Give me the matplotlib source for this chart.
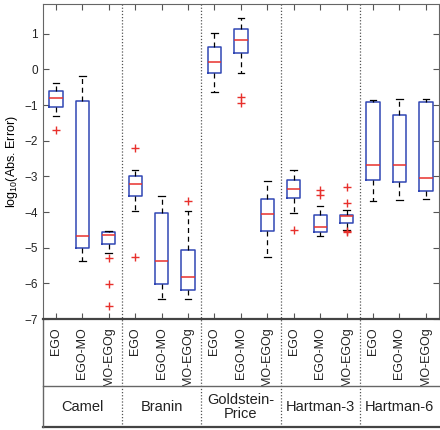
import matplotlib
matplotlib.use("Agg")
import matplotlib.pyplot as plt

plt.rcParams['font.family'] = ['Liberation Sans', 'DejaVu Sans']

methods = ["EGO", "EGO-MO", "MO-EGOg"]
problems = ["Camel", "Branin", "Goldstein-\nPrice", "Hartman-3", "Hartman-6"]

# box statistics, one entry per box (problem x method)
whishi = [-0.39, -0.19, -4.54, -2.81, -3.56, -3.96, 1.03, 1.43, -3.12,
          -2.83, -3.84, -3.94, -0.85, -0.84, -0.82]
q3 = [-0.60, -0.88, -4.56, -3.00, -4.03, -5.06, 0.64, 1.14, -3.64,
      -3.10, -4.07, -4.07, -0.92, -1.27, -0.91]
med = [-0.80, -4.66, -4.64, -3.20, -5.38, -5.81, 0.21, 0.82, -4.05,
       -3.36, -4.41, -4.11, -2.69, -2.67, -3.03]
q1 = [-1.05, -5.01, -4.89, -3.55, -6.02, -6.18, -0.09, 0.46, -4.52,
      -3.61, -4.57, -4.31, -3.11, -3.15, -3.40]
whislo = [-1.31, -5.37, -5.15, -3.98, -6.43, -6.43, -0.63, -0.09, -5.27,
          -4.03, -4.66, -4.51, -3.70, -3.66, -3.62]
fliers = [[-1.69], [], [-5.29, -6.03, -6.62], [-2.21, -5.27], [], [-3.69],
          [], [-0.76, -0.95], [], [-4.51], [-3.39, -3.52],
          [-3.31, -3.75, -4.53, -4.57], [], [], []]

stats = []
for i in range(len(med)):
    stats.append(dict(med=med[i], q1=q1[i], q3=q3[i], whislo=whislo[i],
                      whishi=whishi[i], fliers=fliers[i]))

fig = plt.figure(figsize=(4.4, 4.3), dpi=100)
ax = fig.add_axes([0.097, 0.258, 0.901, 0.733])

pos = list(range(1, len(med) + 1))
ax.bxp(stats, positions=pos, widths=0.5,
       boxprops=dict(color='#3046b4', linewidth=1.1),
       medianprops=dict(color='#e8302c', linewidth=1.1),
       whiskerprops=dict(color='black', linestyle=(0, (4, 3)), linewidth=0.9),
       capprops=dict(color='black', linewidth=0.9),
       capwidths=0.25,
       flierprops=dict(marker='+', markeredgecolor='#e8302c', markersize=6,
                       markeredgewidth=1.0, linestyle='none'))

ax.set_xlim(0.5, 15.5)
ax.set_ylim(-7, 1.84)
ax.set_yticks(range(-7, 2))
ax.set_xticks(pos)
ax.set_xticklabels(methods * len(problems), rotation=90, va='top', fontsize=9)
ax.tick_params(axis='y', labelsize=8.5)
ax.tick_params(direction='in', length=4, top=True, right=True,
               color='#555555', labelcolor='#222222')
ax.tick_params(axis='x', pad=6)
ax.set_ylabel(r"log$_{\mathregular{10}}$(Abs. Error)", fontsize=9, labelpad=3)

for s in ['top', 'left', 'right']:
    ax.spines[s].set_color('#666666')
ax.spines['bottom'].set_color('#444444')
ax.spines['bottom'].set_linewidth(1.6)

# table under the axis: dotted group separators, row line, group names
tr = ax.get_xaxis_transform()
for k in range(1, len(problems)):
    ax.plot([3 * k + 0.5] * 2, [1, -0.343], transform=tr, clip_on=False,
            color='#555555', linestyle=(0, (1, 1.5)), linewidth=0.9)
ax.plot([0.5, 15.5], [-0.213, -0.213], transform=tr, clip_on=False,
        color='#666666', linewidth=1.0)
ax.plot([0.5, 15.5], [-0.343, -0.343], transform=tr, clip_on=False,
        color='#444444', linewidth=1.6)
ax.plot([0.5, 0.5], [0, -0.343], transform=tr, clip_on=False,
        color='#666666', linewidth=1.0)
for k, name in enumerate(problems):
    ax.text(3 * k + 2, -0.278, name, transform=tr, ha='center', va='center',
            fontsize=10.5, color='#222222', linespacing=1.0)

fig.savefig("out.png", dpi=100)
